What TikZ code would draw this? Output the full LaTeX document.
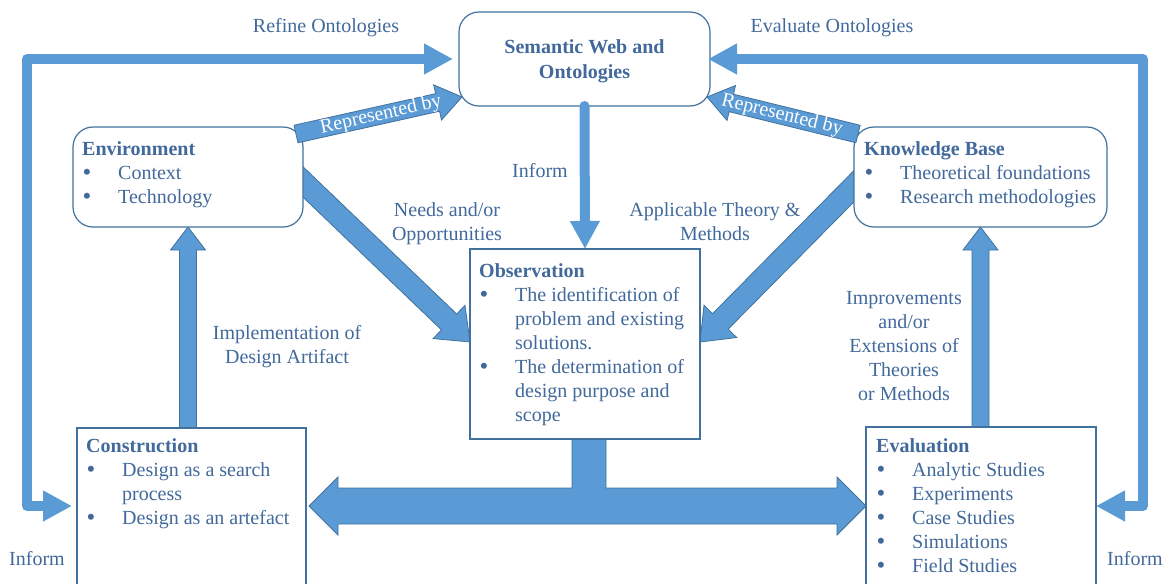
\documentclass[tikz,border=0pt]{standalone}
\usepackage{fontspec}
\setmainfont{Liberation Serif}
\usetikzlibrary{arrows.meta,calc}
\pgfdeclarelayer{bg}
\pgfsetlayers{bg,main}
\definecolor{txt}{HTML}{41699B}
\definecolor{bdr}{HTML}{41719C}
\definecolor{afill}{HTML}{5B9BD5}
\newcommand{\bl}[1]{\hspace*{0.5pt}\makebox[35.5pt][l]{\raisebox{-1.8pt}{\fontsize{25}{24}\selectfont\textbullet}}#1}
\newcommand{\cl}[1]{\hspace*{36pt}#1}
% block arrow: #1 from, #2 to, #3 half shaft, #4 half head, #5 head length
\newcommand{\blockarrow}[5]{%
  \coordinate (ba-c) at ($(#2)!#5!(#1)$);
  \path[barrow] ($(#1)!#3!90:(#2)$) -- ($(ba-c)!#3!90:(#2)$) -- ($(ba-c)!#4!90:(#2)$) -- (#2)
    -- ($(ba-c)!#4!-90:(#2)$) -- ($(ba-c)!#3!-90:(#2)$) -- ($(#1)!#3!-90:(#2)$) -- cycle;}
\begin{document}
\begin{tikzpicture}[x=1pt,y=1pt, font=\fontsize{20}{24}\selectfont, text=txt,
  rbox/.style={draw=bdr, line width=1.2pt, fill=white, rounded corners=20pt, inner sep=0pt, outer sep=0pt, anchor=north west},
  sbox/.style={draw=bdr, line width=1.2pt, fill=white, inner sep=0pt, outer sep=0pt, anchor=north west},
  flow/.style={draw=afill, line width=10pt, line cap=round, line join=round},
  ftip/.tip={Triangle[length=29pt,width=29pt]},
  barrow/.style={fill=afill, draw=bdr, line width=0.8pt, line join=miter},
  txtblock/.style={inner sep=0pt, anchor=base west},
  lbl/.style={inner sep=0pt, anchor=base}]
\useasboundingbox (0,0) rectangle (1168,-584);

% boxes
\node[rbox, minimum width=251pt, minimum height=94pt] (sem) at (459,-12) {};
\node[rbox, minimum width=230pt, minimum height=100pt] (env) at (73,-127) {};
\node[rbox, minimum width=253pt, minimum height=100pt] (kb) at (854,-127) {};
\node[sbox, minimum width=230pt, minimum height=190pt] (obs) at (470,-249) {};
\node[sbox, minimum width=229pt, minimum height=200pt] (con) at (77,-428) {};
\node[sbox, minimum width=230pt, minimum height=200pt] (eva) at (866,-427) {};

% box texts
\node[lbl] (semt) at (584.5,-53) {\fontsize{20}{25}\selectfont\bfseries\begin{tabular}[t]{@{}c@{}}Semantic Web and\\Ontologies\end{tabular}};
\node[txtblock] (envt) at (82,-155) {\begin{tabular}[t]{@{}l@{}}\textbf{Environment}\\\bl{Context}\\\bl{Technology}\end{tabular}};
\node[txtblock] (kbt) at (864,-155) {\begin{tabular}[t]{@{}l@{}}\textbf{Knowledge Base}\\\bl{Theoretical foundations}\\\bl{Research methodologies}\end{tabular}};
\node[txtblock] (obst) at (479,-277) {\begin{tabular}[t]{@{}l@{}}\textbf{Observation}\\\bl{The identification of}\\\cl{problem and existing}\\\cl{solutions.}\\\bl{The determination of}\\\cl{design purpose and}\\\cl{scope}\end{tabular}};
\node[txtblock] (cont) at (86,-452) {\begin{tabular}[t]{@{}l@{}}\textbf{Construction}\\\bl{Design as a search}\\\cl{process}\\\bl{Design as an artefact}\end{tabular}};
\node[txtblock] (evat) at (876,-452) {\begin{tabular}[t]{@{}l@{}}\textbf{Evaluation}\\\bl{Analytic Studies}\\\bl{Experiments}\\\bl{Case Studies}\\\bl{Simulations}\\\bl{Field Studies}\end{tabular}};

% labels
\node[lbl] (refine) at (326,-32) {Refine Ontologies};
\node[lbl] (evalo) at (832,-32) {Evaluate Ontologies};
\node[lbl] (informc) at (540,-177) {Inform};
\node[lbl] (needs) at (447,-216) {\begin{tabular}[t]{@{}c@{}}Needs and/or\\Opportunities\end{tabular}};
\node[lbl] (appl) at (715,-216) {\begin{tabular}[t]{@{}c@{}}Applicable Theory \&\\Methods\end{tabular}};
\node[lbl] (impl) at (287,-339) {\begin{tabular}[t]{@{}c@{}}Implementation of\\Design Artifact\end{tabular}};
\node[lbl] (impr) at (904,-304) {\begin{tabular}[t]{@{}c@{}}Improvements\\and/or\\Extensions of\\Theories\\or Methods\end{tabular}};
\node[lbl] (informl) at (37,-565) {Inform};
\node[lbl] (informr) at (1135,-565) {Inform};

% background block arrows
\begin{pgfonlayer}{bg}
  \coordinate (nA) at ($(env.east)+(-13,7.5)$);
  \coordinate (nB) at ($(obs.north west)+(0,-93)$);
  \blockarrow{nA}{nB}{11pt}{23pt}{29pt}
  \coordinate (aA) at ($(kb.west)+(12,3)$);
  \coordinate (aB) at ($(obs.north east)+(0,-93)$);
  \blockarrow{aA}{aB}{11pt}{23pt}{29pt}
  \coordinate (iA) at ($(env.south |- con.north)+(0,-8)$);
  \blockarrow{iA}{env.south}{8.5pt}{17.5pt}{23pt}
  \coordinate (eA) at ($(kb.south |- eva.north)+(0,-8)$);
  \blockarrow{eA}{kb.south}{8.5pt}{17.5pt}{23pt}
  \path[barrow] let \p1=(con.east), \p2=(eva.west), \p3=(obs.south) in
    (\x1+3,-506) -- (\x1+32,-477) -- (\x1+32,-488) -- (572,-488) -- (572,\y3+3)
    -- (606,\y3+3) -- (606,-488) -- (\x2-29,-488) -- (\x2-29,-477) -- (\x2,-506)
    -- (\x2-29,-535) -- (\x2-29,-524) -- (\x1+32,-524) -- (\x1+32,-535) -- cycle;
\end{pgfonlayer}

% represented by arrows
\coordinate (rlA) at ($(env.north east)+(-7,-7)$);
\coordinate (rlB) at ($(sem.south west)+(3,9)$);
\blockarrow{rlA}{rlB}{9pt}{18pt}{25pt}
\path (rlA) -- (ba-c) node[pos=0.6, sloped, text=white, inner sep=0pt] (rlt) {Represented by};
\coordinate (rrA) at ($(kb.north west)+(4,-7)$);
\coordinate (rrB) at ($(sem.south east)+(-3,9)$);
\blockarrow{rrA}{rrB}{9pt}{18pt}{25pt}
\path (rrA) -- (ba-c) node[pos=0.6, sloped, text=white, inner sep=0pt] (rrt) {Represented by};

% loops and inform
\draw[flow, ftip-ftip, shorten <=5pt, shorten >=6pt] (con.west |- 0,-506) -- (27,-506) -- (27,-59) -- (sem.west);
\draw[flow, ftip-ftip, shorten >=-2pt] (eva.east |- 0,-506) -- (1143,-506) -- (1143,-59) -- (sem.east);
\draw[flow, -{Triangle[length=28pt,width=28pt]}] (sem.south) -- (obs.north);
\end{tikzpicture}
\end{document}
